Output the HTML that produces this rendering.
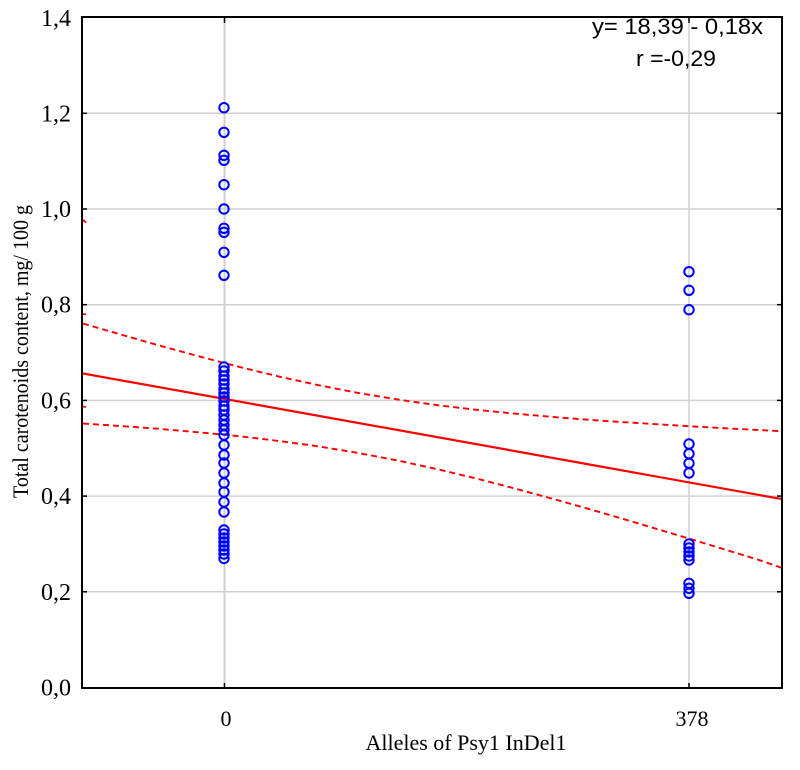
<!DOCTYPE html>
<html>
<head>
<meta charset="utf-8">
<style>
html,body{margin:0;padding:0;background:#fff;}
svg{display:block;}
</style>
</head>
<body>
<svg width="800" height="770" viewBox="0 0 800 770" xmlns="http://www.w3.org/2000/svg">
<defs>
<clipPath id="pa"><rect x="83" y="18" width="699" height="670"/></clipPath>
</defs>
<rect width="800" height="770" fill="#fff"/>
<g stroke="#d0d0d0" stroke-width="1.5">
<line x1="83" y1="113.3" x2="782" y2="113.3"/>
<line x1="83" y1="209" x2="782" y2="209"/>
<line x1="83" y1="304.7" x2="782" y2="304.7"/>
<line x1="83" y1="400.4" x2="782" y2="400.4"/>
<line x1="83" y1="496.1" x2="782" y2="496.1"/>
<line x1="83" y1="591.8" x2="782" y2="591.8"/>
<line x1="224.5" y1="18" x2="224.5" y2="688" stroke-width="2"/>
<line x1="689" y1="18" x2="689" y2="688"/>
</g>
<g clip-path="url(#pa)" fill="none" stroke="#ff0000">
<line x1="83" y1="373.5" x2="782" y2="499.1" stroke-width="2.2"/>
<polyline stroke-width="1.9" stroke-dasharray="6 4" points="83,323.5 120,334.3 160,345.7 200,356.6 240,367.1 280,376.8 320,385.5 360,393.3 400,399.9 440,405.5 480,410.2 520,414.1 560,417.6 600,420.6 640,423.2 680,425.7 720,428 760,430.1 782,431.2"/>
<polyline stroke-width="1.9" stroke-dasharray="6 4" points="83,423.5 120,426 160,428.9 200,432.4 240,436.3 280,441.1 320,446.6 360,453.3 400,461 440,469.8 480,479.4 520,489.9 560,500.8 600,512.2 640,523.9 680,535.9 720,548 760,560.3 782,568"/>
<line x1="83" y1="220" x2="86" y2="222.5" stroke-width="1.8"/>
<line x1="83" y1="314" x2="86" y2="314.5" stroke-width="1.8"/>
<line x1="83" y1="406.5" x2="86" y2="407" stroke-width="1.8"/>
</g>
<g fill="none" stroke="#0000ff" stroke-width="2">
<circle cx="224" cy="107.7" r="4.7"/>
<circle cx="224" cy="132.3" r="4.7"/>
<circle cx="224" cy="155.3" r="4.7"/>
<circle cx="224" cy="160.3" r="4.7"/>
<circle cx="224" cy="184.7" r="4.7"/>
<circle cx="224" cy="209" r="4.7"/>
<circle cx="224" cy="228.3" r="4.7"/>
<circle cx="224" cy="232.3" r="4.7"/>
<circle cx="224" cy="252.3" r="4.7"/>
<circle cx="224" cy="275.3" r="4.7"/>
<circle cx="224" cy="367" r="4.7"/>
<circle cx="224" cy="371" r="4.7"/>
<circle cx="224" cy="376" r="4.7"/>
<circle cx="224" cy="380" r="4.7"/>
<circle cx="224" cy="384" r="4.7"/>
<circle cx="224" cy="389" r="4.7"/>
<circle cx="224" cy="393" r="4.7"/>
<circle cx="224" cy="397" r="4.7"/>
<circle cx="224" cy="401" r="4.7"/>
<circle cx="224" cy="406" r="4.7"/>
<circle cx="224" cy="410" r="4.7"/>
<circle cx="224" cy="415" r="4.7"/>
<circle cx="224" cy="420" r="4.7"/>
<circle cx="224" cy="425" r="4.7"/>
<circle cx="224" cy="430" r="4.7"/>
<circle cx="224" cy="435" r="4.7"/>
<circle cx="224" cy="445" r="4.7"/>
<circle cx="224" cy="455" r="4.7"/>
<circle cx="224" cy="463" r="4.7"/>
<circle cx="224" cy="473" r="4.7"/>
<circle cx="224" cy="483" r="4.7"/>
<circle cx="224" cy="492" r="4.7"/>
<circle cx="224" cy="502" r="4.7"/>
<circle cx="224" cy="512" r="4.7"/>
<circle cx="224" cy="530" r="4.7"/>
<circle cx="224" cy="534" r="4.7"/>
<circle cx="224" cy="538" r="4.7"/>
<circle cx="224" cy="542" r="4.7"/>
<circle cx="224" cy="546" r="4.7"/>
<circle cx="224" cy="550" r="4.7"/>
<circle cx="224" cy="554" r="4.7"/>
<circle cx="224" cy="558.5" r="4.7"/>
<circle cx="689" cy="271.7" r="4.7"/>
<circle cx="689" cy="290.3" r="4.7"/>
<circle cx="689" cy="309.7" r="4.7"/>
<circle cx="689" cy="444" r="4.7"/>
<circle cx="689" cy="453.7" r="4.7"/>
<circle cx="689" cy="463.3" r="4.7"/>
<circle cx="689" cy="473" r="4.7"/>
<circle cx="689" cy="544" r="4.7"/>
<circle cx="689" cy="548" r="4.7"/>
<circle cx="689" cy="552" r="4.7"/>
<circle cx="689" cy="556" r="4.7"/>
<circle cx="689" cy="560" r="4.7"/>
<circle cx="689" cy="583.3" r="4.7"/>
<circle cx="689" cy="588.3" r="4.7"/>
<circle cx="689" cy="593.3" r="4.7"/>
</g>
<rect x="82" y="17" width="700" height="671" fill="none" stroke="#000" stroke-width="2"/>
<g stroke="#000" stroke-width="1.5">
<line x1="82" y1="113.3" x2="87" y2="113.3"/>
<line x1="82" y1="209" x2="87" y2="209"/>
<line x1="82" y1="304.7" x2="87" y2="304.7"/>
<line x1="82" y1="400.4" x2="87" y2="400.4"/>
<line x1="82" y1="496.1" x2="87" y2="496.1"/>
<line x1="82" y1="591.8" x2="87" y2="591.8"/>
<line x1="782" y1="113.3" x2="777" y2="113.3"/>
<line x1="782" y1="209" x2="777" y2="209"/>
<line x1="782" y1="304.7" x2="777" y2="304.7"/>
<line x1="782" y1="400.4" x2="777" y2="400.4"/>
<line x1="782" y1="496.1" x2="777" y2="496.1"/>
<line x1="782" y1="591.8" x2="777" y2="591.8"/>
<line x1="224.5" y1="17" x2="224.5" y2="23"/>
<line x1="689" y1="17" x2="689" y2="23"/>
<line x1="224.5" y1="688" x2="224.5" y2="683"/>
<line x1="689" y1="688" x2="689" y2="683"/>
</g>
<g font-family="'Liberation Serif', serif" font-size="24" fill="#000" text-anchor="end">
<text x="71" y="26">1,4</text>
<text x="71" y="121.3">1,2</text>
<text x="71" y="217">1,0</text>
<text x="71" y="312.7">0,8</text>
<text x="71" y="408.4">0,6</text>
<text x="71" y="504.1">0,4</text>
<text x="71" y="599.8">0,2</text>
<text x="71" y="695.5">0,0</text>
</g>
<g font-family="'Liberation Serif', serif" font-size="22" fill="#000" text-anchor="middle">
<text x="226" y="726">0</text>
<text x="692" y="726">378</text>
</g>
<text x="466" y="750" font-family="'Liberation Serif', serif" font-size="22" text-anchor="middle" fill="#000">Alleles of Psy1 InDel1</text>
<text transform="translate(28,351.5) rotate(-90)" font-family="'Liberation Serif', serif" font-size="22" text-anchor="middle" fill="#000" textLength="293" lengthAdjust="spacingAndGlyphs">Total carotenoids content, mg/ 100 g</text>
<g font-family="'Liberation Sans', sans-serif" font-size="22" fill="#000">
<text x="592" y="34" textLength="171" lengthAdjust="spacingAndGlyphs">y= 18,39 - 0,18x</text>
<text x="636" y="66" textLength="80" lengthAdjust="spacingAndGlyphs">r =-0,29</text>
</g>
</svg>
</body>
</html>
